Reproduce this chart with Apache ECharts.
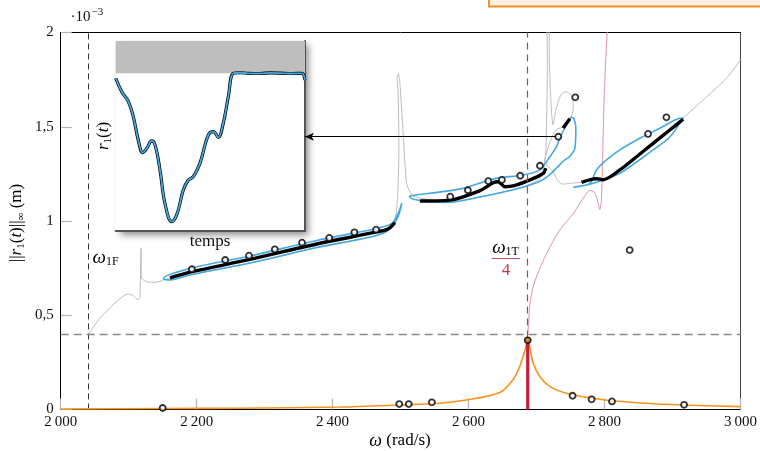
<!DOCTYPE html>
<html><head><meta charset="utf-8">
<script src="https://cdn.jsdelivr.net/npm/echarts@6/dist/echarts.min.js"></script>
<style>html,body{margin:0;padding:0;background:#fff}#c{width:760px;height:451px}</style>
</head><body><div id="c"></div>
<script>
// ---------- data ----------
const xTickLabels = ['2\u2009000','2\u2009200','2\u2009400','2\u2009600','2\u2009800','3\u2009000'];
const yTickLabels = ['0','0,5','1','1,5','2'];

const omega1F = 2040;
const omega1T4 = 2687;
const threshold = 0.4;

const orangeW = [2000,2150,2264,2411,2499,2558,2597,2646,2665,2675,2683,2687,2690,2695,2705,2720,2744,2793,2847,2915,3000];
const orangeR = [0.003,0.005,0.007,0.013,0.024,0.033,0.050,0.090,0.156,0.227,0.316,0.365,0.333,0.246,0.174,0.121,0.086,0.054,0.036,0.024,0.015];

const lowMarkW = [2150,2498,2512,2546,2753,2781,2811,2917];
const lowMarkR = [0.008,0.029,0.029,0.038,0.073,0.054,0.043,0.025];
const peakW = [2687];
const peakR = [0.367];
const upMarkW = [2193,2242,2277,2315,2355,2395,2432,2464,2573,2599,2629,2649,2676,2705,2732,2757,2837,2864,2891];
const upMarkR = [0.744,0.793,0.816,0.850,0.885,0.910,0.940,0.954,1.129,1.163,1.212,1.218,1.240,1.293,1.447,1.656,0.846,1.462,1.550];

const b1W = [2160.7,2190.1,2278.4,2376.5,2464.7,2481.3,2491.6];
const b1R = [0.698,0.729,0.796,0.878,0.942,0.958,0.992];
const b2W = [2528.4,2572.5,2616.6,2636.2,2643.5,2653.4,2665.6,2690.2,2709.7,2713.7];
const b2R = [1.106,1.111,1.161,1.203,1.208,1.182,1.186,1.218,1.253,1.280];
const b2uW = [2739.1,2749.0];
const b2uR = [1.493,1.543];
const b3W = [2766.2,2788.2,2797.9,2822.5,2847.1,2871.5,2896.0,2915.6];
const b3R = [1.205,1.225,1.219,1.271,1.341,1.412,1.483,1.540];

const l1W = [2501.9,2496.0,2487.2,2464.7,2376.5,2278.4,2190.1,2150.9,2160.7,2190.1,2278.4,2376.5,2464.7,2484.3,2496.5,2501.9];
const l1R = [1.095,1.037,0.987,0.960,0.897,0.814,0.748,0.694,0.687,0.714,0.777,0.859,0.923,0.958,1.026,1.095];
const l2W = [2512.6,2543.1,2592.1,2631.3,2646.0,2680.3,2704.9,2719.6,2729.4,2734.3,2744.1,2751.5,2754.9,2757.8,2756.3,2749.0,2739.1,2729.4,2719.6,2704.9,2675.4,2616.6,2567.6,2518.5,2512.6];
const l2R = [1.133,1.147,1.173,1.218,1.230,1.244,1.271,1.341,1.394,1.440,1.511,1.550,1.543,1.493,1.387,1.343,1.317,1.281,1.246,1.211,1.175,1.127,1.098,1.115,1.133];
const l3W = [2753.8,2773.5,2797.9,2822.5,2847.1,2871.5,2896.0,2915.6,2910.7,2881.3,2851.9,2822.5,2802.9,2788.2,2778.4,2758.8,2753.8];
const l3R = [1.179,1.191,1.218,1.253,1.313,1.377,1.446,1.546,1.545,1.492,1.439,1.377,1.324,1.271,1.200,1.182,1.179];

const grayW = [2040.1,2057.8,2099.4,2106.8,2114.1,2116.6,2118.1,2119.1,2126.5,2141.2,2150.9,2190.1,2278.4,2376.5,2464.7,2484.3,2493.1,2496.0,2497.5,2496.5,2495.0,2496.8,2499.0,2503.8,2508.8,2516.2,2523.5,2567.6,2616.6,2675.4,2704.9,2710.7,2713.7,2715.1,2715.9,2715.1,2718.1,2718.8,2721.0,2724.0,2728.4,2734.3,2740.2,2746.0,2752.6,2754.1,2749.0,2738.7,2728.4,2721.0,2713.7,2712.2,2715.1,2724.0,2731.3,2738.7,2766.6,2800.4,2822.5,2847.1,2871.5,2896.0,2915.6,2945.0,2979.4,3000];
const grayR = [0.395,0.485,0.613,0.604,0.581,0.598,0.855,0.696,0.678,0.675,0.687,0.714,0.777,0.859,0.923,0.958,1.032,1.164,1.377,1.668,1.759,1.782,1.732,1.465,1.200,1.138,1.127,1.098,1.127,1.175,1.223,1.281,1.377,1.589,1.854,2.066,2.066,1.854,1.642,1.509,1.589,1.658,1.684,1.684,1.658,1.599,1.536,1.499,1.483,1.430,1.350,1.318,1.297,1.265,1.212,1.196,1.207,1.223,1.271,1.337,1.408,1.478,1.546,1.642,1.757,1.855];

const redW = [2687.2,2690.2,2694.6,2700.4,2715.1,2734.3,2753.4,2771.0,2778.4,2784.3,2788.7,2793.1,2795.3,2796.8,2798.2,2800.4,2803.8,2804.9];
const redR = [0.395,0.554,0.645,0.708,0.830,0.952,1.037,1.133,1.162,1.154,1.122,1.061,1.111,1.271,1.493,1.748,1.997,2.066];

const arrowFromW = 2729;
const arrowToW = 2359.3;
const arrowR = 1.447;

const insetT = [0,0.032,0.067,0.093,0.119,0.143,0.164,0.190,0.208,0.234,0.260,0.296,0.325,0.357,0.384,0.410,0.445,0.489,0.516,0.542,0.568,0.595,0.621,0.657,0.70,0.762,0.82,0.868,0.93,0.983,1.0];
const insetR = [0.804,0.733,0.681,0.602,0.479,0.412,0.435,0.474,0.453,0.321,0.146,0.049,0.093,0.216,0.268,0.286,0.356,0.505,0.523,0.493,0.567,0.707,0.830,0.833,0.830,0.829,0.832,0.831,0.829,0.830,0.795];
const insetBand = [0.83, 1];

// ---------- layout ----------
const zip = (a,b)=>a.map((v,i)=>[v,b[i]]);
const FONT = 'Liberation Serif';
const G = {left:60.7, top:32.5, width:680, height:377};
const I = {left:115.7, top:41, width:189.3, height:190};
const BLUE = '#44a9e2', GRAY = '#bcbcbc', ORANGE = '#f7931e', RED = '#c8374f';

const chart = echarts.init(document.getElementById('c'), null, {renderer:'canvas'});

const hidden = {axisTick:{show:false}, axisLabel:{show:false}, splitLine:{show:false}};
const mk = (size, sub, color) => ({
  n:{fontFamily:FONT, fontSize:size, color, lineHeight:20, verticalAlign:'middle'},
  i:{fontFamily:FONT, fontSize:size, fontStyle:'italic', color, lineHeight:20, verticalAlign:'middle'},
  s:{fontFamily:FONT, fontSize:sub, color, lineHeight:20, verticalAlign:'bottom'},
  w:{fontFamily:FONT, fontSize:size+1, fontStyle:'italic', color, lineHeight:20, verticalAlign:'middle'}
});
const richAxis = mk(17, 11, '#111');
const richLbl = mk(18, 12, '#111');
const richRed = mk(18, 12, RED);

const lineS = (data, color, width, z, smooth) => ({
  type:'line', xAxisIndex:0, yAxisIndex:0, data, symbol:'none', smooth: smooth,
  lineStyle:{color, width}, z, silent:true
});

const option = {
  animation:false,
  grid:[
    {left:G.left, top:G.top, width:G.width, height:G.height},
    {left:I.left, top:I.top, width:I.width, height:I.height}
  ],
  xAxis:[
    {type:'value', gridIndex:0, min:2000, max:3000, interval:200,
     axisLine:{show:true, onZero:false, lineStyle:{color:'#000', width:1}},
     axisTick:{show:true, inside:true, length:11, lineStyle:{color:'#b4b4b4', width:1.2}},
     axisLabel:{margin:5, fontFamily:FONT, fontSize:15, color:'#111', showMinLabel:true, showMaxLabel:true,
       formatter:v=>xTickLabels[Math.round((v-2000)/200)]},
     splitLine:{show:false}},
    Object.assign({type:'value', gridIndex:1, min:0, max:1,
     axisLine:{show:true, onZero:false, lineStyle:{color:'#555', width:2}}}, hidden),
    Object.assign({type:'value', gridIndex:0, position:'top', min:2000, max:3000,
     axisLine:{show:true, onZero:false, lineStyle:{color:'#000', width:1}}}, hidden)
  ],
  yAxis:[
    {type:'value', gridIndex:0, min:0, max:2, interval:0.5,
     axisLine:{show:true, onZero:false, lineStyle:{color:'#000', width:1}},
     axisTick:{show:true, inside:true, length:11, lineStyle:{color:'#b4b4b4', width:1.2}},
     axisLabel:{margin:7, fontFamily:FONT, fontSize:15, color:'#111',
       formatter:v=>yTickLabels[Math.round(v/0.5)]},
     splitLine:{show:false}},
    Object.assign({type:'value', gridIndex:1, position:'right', min:0, max:1,
     axisLine:{show:true, onZero:false, lineStyle:{color:'#555', width:2}}}, hidden),
    Object.assign({type:'value', gridIndex:0, position:'right', min:0, max:2,
     axisLine:{show:true, onZero:false, lineStyle:{color:'#444', width:1}}}, hidden)
  ],
  series:[
    Object.assign(lineS(zip(grayW,grayR), GRAY, 1, 2, 0.2), {
      markLine:{silent:true, symbol:'none', label:{show:false},
        data:[
          {xAxis:omega1F, lineStyle:{color:'#333', type:[6,4], width:1}},
          {xAxis:omega1T4, lineStyle:{color:RED, type:[7,5], width:1.2, opacity:1}},
          {yAxis:threshold, lineStyle:{color:'#8a8a8a', type:[8,5], width:1.3}}
        ]}
    }),
    lineS(zip(redW,redR), '#e0899a', 0.9, 2, 0.3),
    lineS(zip(l1W,l1R), BLUE, 1.6, 3, 0.3),
    lineS(zip(l2W,l2R), BLUE, 1.6, 3, 0.3),
    lineS(zip(l3W,l3R), BLUE, 1.6, 3, 0.3),
    lineS(zip(b1W,b1R), '#000', 3.4, 4, 0.3),
    lineS(zip(b2W,b2R), '#000', 3.4, 4, 0.3),
    lineS(zip(b2uW,b2uR), '#000', 3.4, 4, 0),
    lineS(zip(b3W,b3R), '#000', 3.4, 4, 0.3),
    lineS(zip(orangeW,orangeR), ORANGE, 1.6, 5, 0.3),
    lineS([[omega1T4,0],[omega1T4,peakR[0]]], '#c41f3e', 3.2, 6, 0),
    {type:'line', xAxisIndex:0, yAxisIndex:0, symbol:'none', silent:true,
     data:[[arrowFromW,arrowR],[arrowToW,arrowR]], lineStyle:{width:0, opacity:0}, z:6,
     markLine:{silent:true, symbol:['none','arrow'], symbolSize:[6,9], label:{show:false},
       lineStyle:{color:'#000', width:1, type:'solid'},
       data:[[{coord:[arrowFromW,arrowR]},{coord:[arrowToW,arrowR]}]]}},
    {type:'scatter', xAxisIndex:0, yAxisIndex:0, silent:true, z:8,
     data:zip(upMarkW,upMarkR).concat(zip(lowMarkW,lowMarkR)),
     symbol:'circle', symbolSize:6, itemStyle:{color:'#fff', borderColor:'#000', borderWidth:1.8}},
    {type:'scatter', xAxisIndex:0, yAxisIndex:0, silent:true, z:8,
     data:zip(peakW,peakR), symbol:'circle', symbolSize:6,
     itemStyle:{color:'#e08a20', borderColor:'#000', borderWidth:1.8}},
    {type:'line', xAxisIndex:1, yAxisIndex:1, silent:true, data:zip(insetT,insetR), symbol:'none', smooth:0.4,
     lineStyle:{color:'#000', width:3.2}, z:3,
     markArea:{silent:true, itemStyle:{color:'#bebebe'}, data:[[{yAxis:insetBand[0]},{yAxis:insetBand[1]}]]}},
    {type:'line', xAxisIndex:1, yAxisIndex:1, silent:true, data:zip(insetT,insetR), symbol:'none', smooth:0.4,
     lineStyle:{color:BLUE, width:1.8}, z:4}
  ],
  graphic:[
    {type:'rect', z:-1, shape:{x:I.left, y:I.top, width:I.width, height:I.height},
     style:{fill:'#fff', shadowBlur:7, shadowOffsetX:4, shadowOffsetY:4, shadowColor:'rgba(0,0,0,0.45)'}},
    {type:'rect', z:10, shape:{x:489, y:-12, width:290, height:18.5},
     style:{fill:'#fdf2e4', stroke:'#f3912a', lineWidth:2}},
    {type:'text', z:10, x:70.5, y:17, style:{text:'·10', font:'15px "Liberation Serif"', fill:'#111', verticalAlign:'middle'}},
    {type:'text', z:10, x:91.5, y:12, style:{text:'\u22123', font:'11px "Liberation Serif"', fill:'#111', verticalAlign:'middle'}},
    {type:'text', z:10, x:17, y:223, rotation:Math.PI/2,
     style:{text:'{n|||}{i|r}{s|1}{n|(}{i|t}{n|)||}{s|\u221E}{n| (m)}', rich:richAxis, align:'center', verticalAlign:'middle'}},
    {type:'text', z:10, x:400, y:441,
     style:{text:'{w|\u03C9}{n| (rad/s)}', rich:richAxis, align:'center', verticalAlign:'middle'}},
    {type:'text', z:10, x:92.5, y:258,
     style:{text:'{w|\u03C9}{s|1F}', rich:richLbl, align:'left', verticalAlign:'middle'}},
    {type:'text', z:10, x:505.5, y:248,
     style:{text:'{w|\u03C9}{s|1T}', rich:richRed, align:'center', verticalAlign:'middle'}},
    {type:'line', z:10, shape:{x1:491.5, y1:258.5, x2:520, y2:258.5}, style:{stroke:RED, lineWidth:0.9}},
    {type:'text', z:10, x:506, y:270.5, style:{text:'4', font:'17px "Liberation Serif"', fill:RED, align:'center', verticalAlign:'middle'}},
    {type:'text', z:10, x:103.5, y:136, rotation:Math.PI/2,
     style:{text:'{i|r}{s|1}{n|(}{i|t}{n|)}', rich:richAxis, align:'center', verticalAlign:'middle'}},
    {type:'text', z:10, x:210, y:242, style:{text:'temps', font:'17px "Liberation Serif"', fill:'#111', align:'center', verticalAlign:'middle'}}
  ]
};
chart.setOption(option);
</script></body></html>
